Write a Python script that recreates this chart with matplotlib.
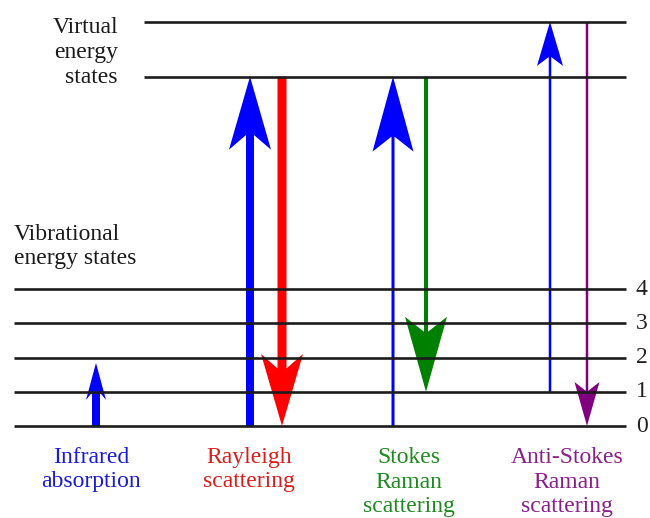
import matplotlib
matplotlib.use("Agg")
import matplotlib.pyplot as plt

plt.rcParams['font.family'] = ['Liberation Serif', 'DejaVu Serif']

# ---- data ----
vib_levels = [0, 1, 2, 3, 4]
vib_labels = ["0", "1", "2", "3", "4"]
virtual_levels = [10.2, 11.8]
ir_top = 1.84

processes = ["Infrared\nabsorption", "Rayleigh\nscattering",
             "Stokes\nRaman\nscattering", "Anti-Stokes\nRaman\nscattering"]
process_colors = ["#1a1ad8", "#dc1c1c", "#1f8a1f", "#8a1f8a"]
process_x = [91, 249, 409, 567]

# arrows: (x, start level, end level, colour, shaft px, head width px, head length px)
arrow_x = [96, 250, 282, 393, 426, 550, 587]
arrow_start = [0, 0, virtual_levels[0], 0, virtual_levels[0], 1, virtual_levels[1]]
arrow_end = [ir_top, virtual_levels[0], 0, virtual_levels[0], 1, virtual_levels[1], 0]
arrow_color = ["#0000ff", "#0000ff", "#ff0000", "#0000ff", "#008000", "#0000ff", "#800080"]
arrow_shaft = [8, 8, 9, 3, 4, 2.5, 2.5]
arrow_hw = [20, 42, 42, 41, 42, 26, 25]
arrow_hl = [37, 73, 72, 75, 75, 44, 44]

# ---- figure ----
W, H = 650, 518
fig = plt.figure(figsize=(W / 100, H / 100), dpi=100)
ax = fig.add_axes([0, 0, 1, 1])
px_per_level = 34.25
y0_px = 426
ax.set_xlim(0, W)
ax.set_ylim((y0_px - H) / px_per_level, y0_px / px_per_level)
ax.axis('off')

line_col = "#1c1c1c"
ax.hlines(vib_levels, 14, 626, color=line_col, lw=1.9, zorder=5)
ax.hlines(virtual_levels, 144, 626, color=line_col, lw=1.9, zorder=5)

for lv, lab in zip(vib_levels, vib_labels):
    ax.text(636, lv, lab, fontsize=17, ha='left', va='center', color="#222222")

for x, s, e, c, sw, hw, hl in zip(arrow_x, arrow_start, arrow_end, arrow_color,
                                  arrow_shaft, arrow_hw, arrow_hl):
    ax.arrow(x, s, 0, e - s, width=sw, head_width=hw,
             head_length=hl / px_per_level, length_includes_head=True,
             overhang=0.2, color=c, lw=0, zorder=3)

def ypx(py):
    return (y0_px - py) / px_per_level

# left side labels
for txt, by in zip(["Virtual", "energy", "states"], [33, 58, 83]):
    ax.text(118, ypx(by), txt, fontsize=17, ha='right', va='baseline', color="#1a1a1a")
for txt, by in zip(["Vibrational", "energy states"], [240, 264]):
    ax.text(14, ypx(by), txt, fontsize=17, ha='left', va='baseline', color="#1a1a1a")

# bottom labels
for name, col, x in zip(processes, process_colors, process_x):
    for i, line in enumerate(name.split("\n")):
        ax.text(x, ypx(463 + 24.5 * i), line, fontsize=17, ha='center',
                va='baseline', color=col)

fig.savefig("out.png", dpi=100)
